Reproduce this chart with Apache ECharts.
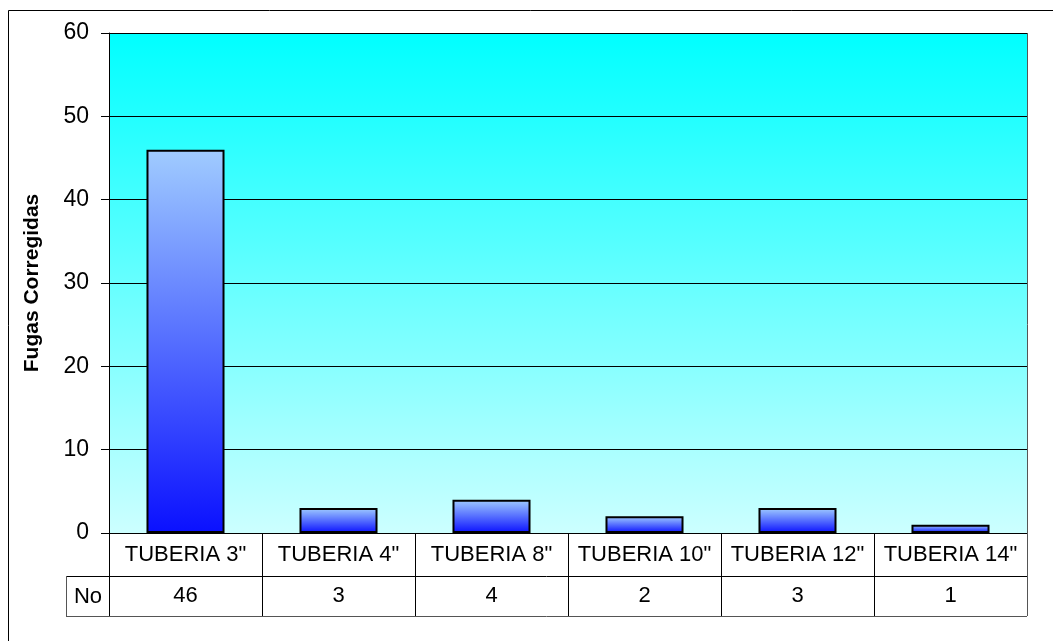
<!DOCTYPE html>
<html>
<head>
<meta charset="utf-8">
<script src="https://cdn.jsdelivr.net/npm/echarts@6/dist/echarts.min.js"></script>
<style>
  html, body { margin: 0; padding: 0; background: #ffffff; }
  #chart { width: 1053px; height: 641px; }
</style>
</head>
<body>
<div id="chart"></div>
<script>
// Fugas corregidas por diámetro de tubería
const categories = ['TUBERIA 3"', 'TUBERIA 4"', 'TUBERIA 8"', 'TUBERIA 10"', 'TUBERIA 12"', 'TUBERIA 14"'];
const fugas = [46, 3, 4, 2, 3, 1];
const seriesName = 'No';
const yTicks = { min: 0, max: 60, interval: 10 };

const FONT = '"Liberation Sans", Arial, sans-serif';
const G = { left: 109, right: 26, top: 33, bottom: 108 }; // plot area: x 109..1027, y 33..533
const W = 1053, H = 641;
const plotRight = W - G.right;
const plotBottom = H - G.bottom;
const rowH1 = 43, rowH2 = 40;

const chart = echarts.init(document.getElementById('chart'), null, { renderer: 'canvas' });

const barGradient = new echarts.graphic.LinearGradient(0, 0, 0, 1, [
  { offset: 0, color: '#a0ccff' },
  { offset: 1, color: '#0a10ff' }
]);

chart.setOption({
  backgroundColor: '#ffffff',
  animation: false,
  grid: {
    left: G.left, right: G.right, top: G.top, bottom: G.bottom,
    show: true,
    backgroundColor: new echarts.graphic.LinearGradient(0, 0, 0, 1, [
      { offset: 0, color: '#00ffff' },
      { offset: 1, color: '#ccffff' }
    ]),
    borderWidth: 0
  },
  xAxis: [
    {
      type: 'category',
      data: categories,
      position: 'bottom',
      axisLine: { show: true, lineStyle: { color: '#000', width: 1 } },
      axisTick: { show: true, interval: 0, length: rowH1 + rowH2, lineStyle: { color: '#000', width: 1 } },
      axisLabel: { interval: 0, hideOverlap: false, color: '#000', fontFamily: FONT, fontSize: 22, margin: 11 }
    },
    {
      type: 'category',
      data: fugas.map(String),
      position: 'bottom',
      offset: rowH1,
      axisLine: { show: false },
      axisTick: { show: false },
      axisLabel: { interval: 0, color: '#000', fontFamily: FONT, fontSize: 22, margin: 9 }
    }
  ],
  yAxis: {
    type: 'value',
    min: yTicks.min, max: yTicks.max, interval: yTicks.interval,
    name: 'Fugas Corregidas',
    nameLocation: 'middle',
    nameRotate: 90,
    nameGap: 66,
    nameTextStyle: { color: '#000', fontFamily: FONT, fontSize: 21, fontWeight: 'bold' },
    axisLine: { show: true, lineStyle: { color: '#000', width: 1 } },
    axisTick: { show: true, length: 8, lineStyle: { color: '#000' } },
    axisLabel: { color: '#000', fontFamily: FONT, fontSize: 23, margin: 20 },
    splitLine: { show: true, lineStyle: { color: '#000', width: 1 } }
  },
  series: [{
    name: seriesName,
    type: 'bar',
    data: fugas,
    barWidth: '51%',
    itemStyle: { color: barGradient, borderColor: '#000', borderWidth: 2 }
  }],
  graphic: [
    // outer chart frame (top and left edges)
    { type: 'line', silent: true, shape: { x1: 8.5, y1: 10.5, x2: W, y2: 10.5 }, style: { stroke: '#000', lineWidth: 1 } },
    { type: 'line', silent: true, shape: { x1: 8.5, y1: 10.5, x2: 8.5, y2: H }, style: { stroke: '#000', lineWidth: 1 } },
    // right edge of plot area and table
    { type: 'line', silent: true, z: 10, shape: { x1: plotRight + 0.5, y1: G.top, x2: plotRight + 0.5, y2: plotBottom + rowH1 + rowH2 }, style: { stroke: '#555', lineWidth: 1 } },
    // data table row separators
    { type: 'line', silent: true, shape: { x1: 66, y1: plotBottom + rowH1 + 0.5, x2: plotRight, y2: plotBottom + rowH1 + 0.5 }, style: { stroke: '#000', lineWidth: 1 } },
    { type: 'line', silent: true, shape: { x1: 66, y1: plotBottom + rowH1 + rowH2 + 0.5, x2: plotRight, y2: plotBottom + rowH1 + rowH2 + 0.5 }, style: { stroke: '#555', lineWidth: 1 } },
    { type: 'line', silent: true, shape: { x1: 66.5, y1: plotBottom + rowH1, x2: 66.5, y2: plotBottom + rowH1 + rowH2 }, style: { stroke: '#555', lineWidth: 1 } },
    // series key cell
    { type: 'text', silent: true, x: 88, y: plotBottom + rowH1 + rowH2 / 2 + 1,
      style: { text: seriesName, fill: '#000', font: '22px ' + FONT, textAlign: 'center', textVerticalAlign: 'middle' } }
  ]
});
</script>
</body>
</html>
